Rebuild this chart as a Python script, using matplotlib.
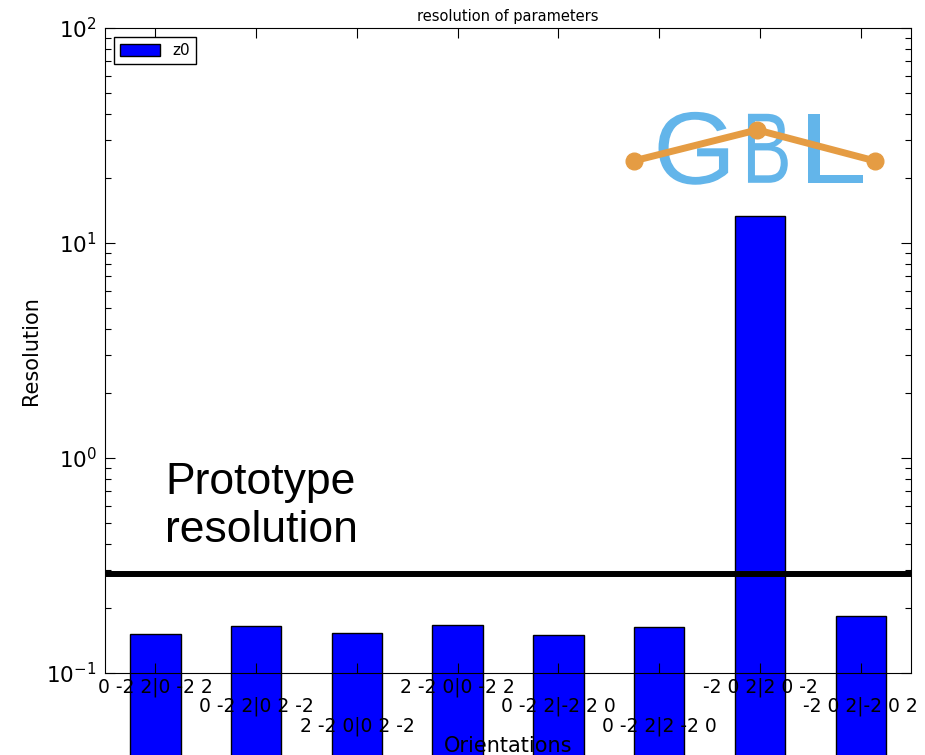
import numpy as np
import matplotlib
matplotlib.use("Agg")
import matplotlib.pyplot as plt
from matplotlib.textpath import TextPath
from matplotlib.font_manager import FontProperties
from matplotlib.patches import PathPatch
from matplotlib.path import Path

# orientation pairs and the z0 resolution for each
orientations = ["0 -2 2|0 -2 2", "0 -2 2|0 2 -2", "2 -2 0|0 2 -2", "2 -2 0|0 -2 2",
                "0 -2 2|-2 2 0", "0 -2 2|2 -2 0", "-2 0 2|2 0 -2", "-2 0 2|-2 0 2"]
z0_resolution = [0.152, 0.166, 0.153, 0.167, 0.150, 0.164, 13.4, 0.184]
prototype_resolution = 0.29

fig = plt.figure(figsize=(9.25, 7.55), dpi=100)
ax = fig.add_axes([0.1135, 0.1086, 0.8715, 0.8543])

x = np.arange(len(orientations))
# bars start far below the axis and are not clipped (old-style log bars)
bars = ax.bar(x, np.array(z0_resolution) - 1e-3, bottom=1e-3, width=0.5,
              color="#0000ff", edgecolor="black", linewidth=1.0, label="z0")
for b in bars:
    b.set_clip_on(False)

ax.set_yscale("log")
ax.set_ylim(0.1, 100)
ax.set_xlim(-0.5, len(orientations) - 0.5)

ax.axhline(prototype_resolution, color="black", linewidth=4.3, zorder=3)
ax.text(0.075, 0.258, "Prototype\nresolution", transform=ax.transAxes,
        fontsize=32, family="Liberation Sans", va="center", ha="left",
        linespacing=1.2)


def logo_letter(ch, x0, x1, y0, y1):
    # squeeze a glyph outline into a box given in axes fractions
    tp = TextPath((0, 0), ch, size=100, prop=FontProperties(family="Liberation Sans"))
    v = tp.vertices.copy()
    lo, hi = v.min(axis=0), v.max(axis=0)
    v[:, 0] = x0 + (v[:, 0] - lo[0]) / (hi[0] - lo[0]) * (x1 - x0)
    v[:, 1] = y0 + (v[:, 1] - lo[1]) / (hi[1] - lo[1]) * (y1 - y0)
    ax.add_patch(PathPatch(Path(v, tp.codes), transform=ax.transAxes,
                           facecolor="#63b5ea", edgecolor="none", zorder=3))


logo_letter("G", 0.680, 0.773, 0.757, 0.870)
logo_letter("B", 0.790, 0.847, 0.760, 0.867)
logo_letter("L", 0.860, 0.940, 0.760, 0.867)
ax.plot([0.656, 0.809, 0.955], [0.794, 0.842, 0.794], transform=ax.transAxes,
        color="#e59c43", linewidth=5, marker="o", markersize=12, zorder=4)

ax.set_xticks(x)
ax.set_xticklabels(orientations)
ax.tick_params(axis="both", which="both", direction="in", top=True, right=True)
ax.tick_params(axis="both", which="major", length=7, width=0.8)
ax.tick_params(axis="y", which="minor", length=4, width=0.8)
ax.tick_params(axis="y", labelsize=15.5, pad=6)
ax.tick_params(axis="x", labelsize=13.5)
# stagger the long labels over three rows
for i, tick in enumerate(ax.xaxis.get_major_ticks()):
    tick.set_pad(3 + (i % 3) * 14.2)

ax.set_xlabel("Orientations", fontsize=15, labelpad=0)
ax.set_ylabel("Resolution", fontsize=15, labelpad=4)
ax.set_title("resolution of parameters", fontsize=10.5, pad=5)

ax.legend(loc="upper left", fontsize=11, fancybox=False, edgecolor="black",
          framealpha=1, handlelength=2.6, handleheight=0.9, borderaxespad=0.6)

fig.savefig("out.png", dpi=100)
